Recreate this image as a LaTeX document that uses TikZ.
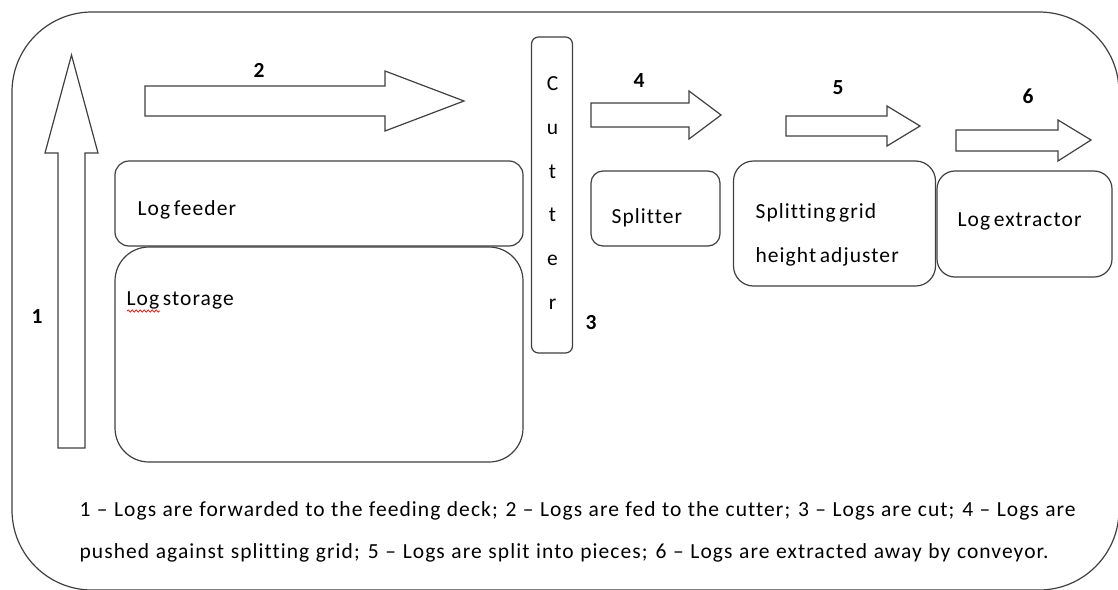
\documentclass[tikz,border=0pt]{standalone}
\usepackage{fontspec}
\setmainfont{Carlito}[Ligatures=NoCommon, LetterSpace=5, WordSpace=0.6]
\usetikzlibrary{decorations.pathmorphing}
\definecolor{ln}{HTML}{404040}
\begin{document}
\begin{tikzpicture}[x=1pt,y=-1pt,
  line width=1.2pt,
  box/.style={draw=ln, inner sep=0pt, line width=1.2pt},
  blockarrow/.style={draw=ln, fill=white, line width=1.2pt, line join=miter},
  lbl/.style={font=\fontsize{21.5}{25}\selectfont, inner sep=0pt, anchor=west},
  num/.style={font=\fontsize{21.5}{25}\selectfont\bfseries, inner sep=0pt},
  captxt/.style={font=\fontsize{21.5}{25}\selectfont, inner sep=0pt, anchor=west}]
\useasboundingbox (0,0) rectangle (1118,589);
\fill[white] (0,0) rectangle (1118,589);
% outer frame
\draw[ln, rounded corners=80pt] (12,12) rectangle (1119,590);
% arrow 1 (up)
\draw[blockarrow] (58,448) -- (58,153) -- (45,153) -- (71.5,55) -- (98,153) -- (85,153) -- (85,448) -- cycle;
\node[num] (n1) at (37,317) {1};
% arrow 2
\draw[blockarrow] (145,86) -- (385,86) -- (385,71) -- (464,101) -- (385,131) -- (385,116) -- (145,116) -- cycle;
\node[num] (n2) at (259,70) {2};
% boxes
\node[box, rounded corners=14pt, minimum width=408pt, minimum height=85pt] (feeder) at (319,203.5) {};
\node[box, rounded corners=34pt, minimum width=408pt, minimum height=215pt] (storage) at (319,354.5) {};
\node[box, rounded corners=7pt, minimum width=41pt, minimum height=316pt] (cutter) at (552,195) {};
\node[box, rounded corners=12pt, minimum width=129pt, minimum height=75pt] (splitter) at (655.5,208.5) {};
\node[box, rounded corners=20pt, minimum width=202pt, minimum height=125pt] (grid) at (834.5,223.5) {};
\node[box, rounded corners=18pt, minimum width=175pt, minimum height=106pt] (extractor) at (1024.5,224) {};
% box texts
\node[lbl] (tfeeder) at (137,210) {Log feeder};
\node[lbl] (tstorage) at (126,300) {Log storage};
\draw[red, line width=0.7pt, decorate, decoration={snake, amplitude=1.1pt, segment length=4pt}] (127,311) -- (160,311);
\node[font=\fontsize{21.5}{43.8}\selectfont, align=center, inner sep=0pt] (tcutter) at (552.5,193) {C\\u\\t\\t\\e\\r};
\node[num] (n3) at (591,323) {3};
\node[lbl] (tsplitter) at (611,218) {Splitter};
\node[lbl] (tgrid1) at (755,213) {Splitting grid};
\node[lbl] (tgrid2) at (755,256.5) {height adjuster};
\node[lbl] (textractor) at (957,221) {Log extractor};
% arrow 4
\draw[blockarrow] (591,103) -- (689,103) -- (689,91) -- (721,115) -- (689,139) -- (689,127) -- (591,127) -- cycle;
\node[num] (n4) at (639,81) {4};
% arrow 5
\draw[blockarrow] (786,116) -- (887,116) -- (887,106) -- (920,126) -- (887,146) -- (887,136) -- (786,136) -- cycle;
\node[num] (n5) at (838,88) {5};
% arrow 6
\draw[blockarrow] (956,130) -- (1058,130) -- (1058,120) -- (1091,140) -- (1058,161) -- (1058,151) -- (956,151) -- cycle;
\node[num] (n6) at (1028,96) {6};
% caption
\node[captxt] (c1) at (79,511) {\makebox[996pt][s]{1 – Logs are forwarded to the feeding deck; 2 – Logs are fed to the cutter; 3 – Logs are cut; 4 – Logs are}};
\node[captxt] (c2) at (79,553) {\makebox[969pt][s]{pushed against splitting grid; 5 – Logs are split into pieces; 6 – Logs are extracted away by conveyor.}};
\end{tikzpicture}
\end{document}
